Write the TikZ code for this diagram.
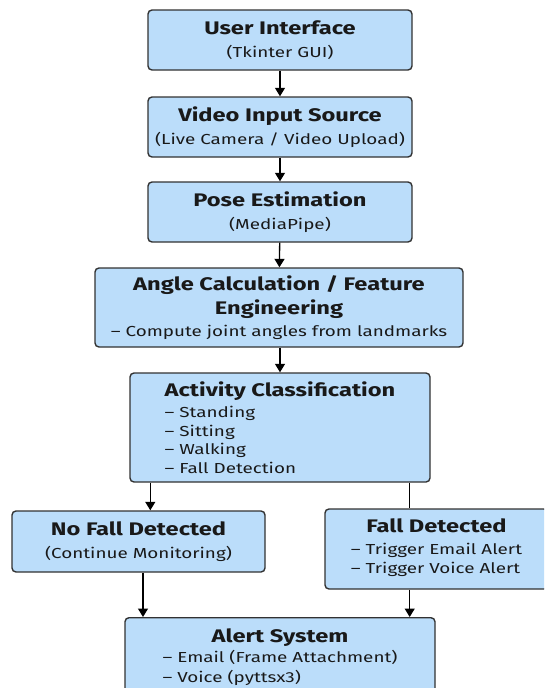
\documentclass[tikz,border=0pt]{standalone}
\usepackage{fontspec}
\setmainfont{Fira Sans}[FakeStretch=1.3]
\usetikzlibrary{arrows.meta}
\definecolor{boxblue}{RGB}{187,221,250}
\definecolor{boxline}{RGB}{50,50,50}
\newcommand{\boxtitle}[1]{{\fontsize{18.2}{22}\selectfont\bfseries #1}}
\begin{document}
\begin{tikzpicture}[x=1pt,y=-1pt,
    box/.style={draw=boxline, fill=boxblue, line width=1.4pt, rounded corners=4pt,
      align=center, inner sep=3pt, text=black!90, font=\fontsize{14.5}{18.5}\selectfont},
    arr/.style={-{Triangle[width=10pt,length=8.5pt]}, line width=1.3pt}]
  \clip (0,0) rectangle (544,688);
  \renewcommand{\arraystretch}{1.05}
  % main column
  \node[box, minimum width=264pt, minimum height=60pt] (ui) at (280,40)
    {\boxtitle{User Interface}\\[4pt](Tkinter GUI)};
  \node[box, minimum width=264pt, minimum height=60pt] (video) at (280,127)
    {\boxtitle{Video Input Source}\\[4pt](Live Camera / Video Upload)};
  \node[box, minimum width=264pt, minimum height=60pt] (pose) at (280,212)
    {\boxtitle{Pose Estimation}\\[4pt](MediaPipe)};
  \node[box, minimum width=368pt, minimum height=79pt] (angle) at (279,307.5)
    {\boxtitle{Angle Calculation / Feature}\\[4pt]\boxtitle{Engineering}\\[3pt]– Compute joint angles from landmarks};
  \node[box, align=left, minimum width=300pt, minimum height=109pt] (activity) at (280,427.5)
    {\boxtitle{Activity Classification}\\[3pt]– Standing\\– Sitting\\– Walking\\– Fall Detection};
  % branches
  \node[box, minimum width=253pt, minimum height=61pt] (nofall) at (138.5,541.5)
    {\boxtitle{No Fall Detected}\\[4pt](Continue Monitoring)};
  \node[box, minimum width=223pt, minimum height=80pt] (fall) at (436.5,549)
    {\boxtitle{Fall Detected}\\[3.5pt]\begin{tabular}[t]{@{}l@{}}– Trigger Email Alert\\– Trigger Voice Alert\end{tabular}};
  \node[box, anchor=north, minimum width=310pt, minimum height=81pt] (alert) at (280,617)
    {\boxtitle{Alert System}\\[2pt]\begin{tabular}[t]{@{}l@{}}– Email (Frame Attachment)\\– Voice (pyttsx3)\end{tabular}};
  % connectors
  \coordinate (lcol) at ([xshift=21pt]activity.south west);
  \coordinate (rcol) at ([xshift=-21pt]activity.south east);
  \draw[arr] (ui) -- (video);
  \draw[arr] (video) -- (pose);
  \draw[arr] (pose) -- (angle);
  \draw[arr] (angle.south -| activity.north) -- (activity);
  \draw[arr] (lcol) -- (lcol |- nofall.north);
  \draw[line width=1.3pt] (rcol) -- (rcol |- fall.north);
  \draw[arr] ([xshift=4.5pt]nofall.south) -- ([xshift=4.5pt]nofall.south |- alert.north);
  \draw[arr] (rcol |- fall.south) -- (rcol |- alert.north);
\end{tikzpicture}
\end{document}
